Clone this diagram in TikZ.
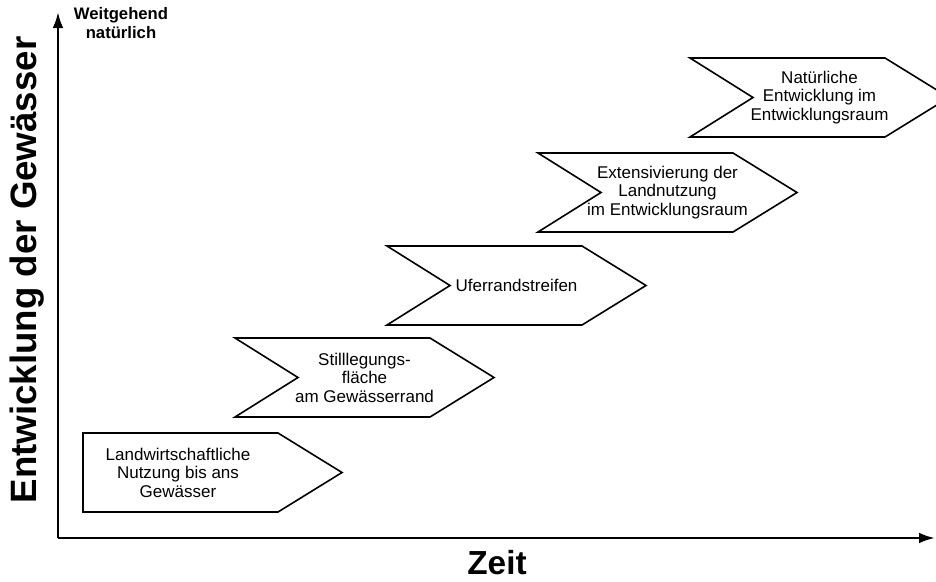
\documentclass[tikz,border=0pt]{standalone}
\usepackage{fontspec}
\setmainfont{Liberation Sans}
\usetikzlibrary{arrows.meta}

\begin{document}
\begin{tikzpicture}[x=0.75pt,y=-0.75pt]
        \tikzstyle{every node}=[align=center,inner sep=0pt]
        \tikzstyle{chevron}=[draw=black,line width=1.2pt,fill=white,line join=miter]
        \tikzstyle{boxtext}=[font=\fontsize{12.75}{13.9}\selectfont]
        \tikzstyle{axis}=[line width=1.8pt,-{Latex[length=12pt,width=8pt]}]
        \clip (0,0) rectangle (936,582);
        % Achsen
        \coordinate (origin) at (58,538);
        \coordinate (ytop) at (58,12);
        \coordinate (xend) at (935,538);
        \draw[axis] (origin) -- (ytop);
        \draw[axis] (origin) -- (xend);
        \node[font=\bfseries\fontsize{25}{30}\selectfont] (zeit) at (497,563) {Zeit};
        \node[font=\bfseries\fontsize{27.5}{30}\selectfont, rotate=90] (gewaesser) at (27,270) {Entwicklung der Gewässer};
        \node[font=\bfseries\fontsize{12.5}{14}\selectfont] (natur) at (121,23) {Weitgehend\\natürlich};
        % erster Schritt
        \draw[chevron] (83,433) -- (278,433) -- (342,472.5) -- (278,512) -- (83,512) -- cycle;
        \node[boxtext] (s1) at (178,472.5) {Landwirtschaftliche\\Nutzung bis ans\\Gewässer};
        % weitere Schritte
        \foreach \x/\y/\n/\t in {235/338/s2/{Stilllegungs-\\fläche\\am Gewässerrand},
                                 387/246/s3/{Uferrandstreifen},
                                 538/153/s4/{Extensivierung der\\Landnutzung\\im Entwicklungsraum},
                                 690/58/s5/{Natürliche\\Entwicklung im\\Entwicklungsraum}}
        {
          \draw[chevron] (\x,\y) -- ++(195,0) -- ++(64,39.5) -- ++(-64,39.5) -- ++(-195,0) -- ++(63,-39.5) -- cycle;
          \node[boxtext] (\n) at (\x+129.5,\y+39.5) {\t};
        }
\end{tikzpicture}
\end{document}
